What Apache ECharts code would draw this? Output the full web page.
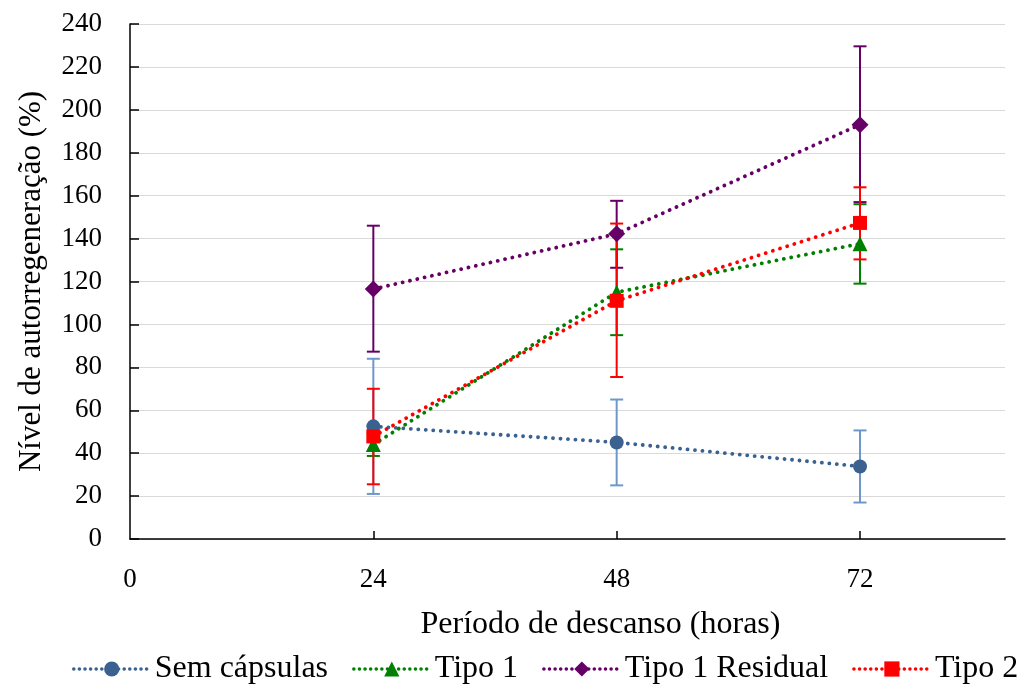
<!DOCTYPE html>
<html>
<head>
<meta charset="utf-8">
<script src="https://cdn.jsdelivr.net/npm/echarts@6/dist/echarts.min.js"></script>
<style>
  html, body { margin: 0; padding: 0; background: #fff; }
  #chart { width: 1030px; height: 691px; }
</style>
</head>
<body>
<div id="chart"></div>
<script>
    // data
    var horas = [24, 48, 72];
    var xTicks = [0, 24, 48, 72];

    var semCapsulas = [52.5, 45, 33.8];
    var semCapsulasErr = [[21, 84], [25, 65], [17, 50.6]];

    var tipo1 = [44, 115, 137.6];
    var tipo1Err = [[38.7, 49.3], [95, 135], [119, 156]];

    var tipo1Residual = [116.5, 142.2, 193.1];
    var tipo1ResidualErr = [[87.3, 146], [126.4, 157.6], [157, 229.6]];

    var tipo2 = [47.8, 111, 147.3];
    var tipo2Err = [[25.5, 70], [75.5, 147], [130.3, 163.9]];

    var font = '"Liberation Serif", "Times New Roman", serif';

    function pairs(vals) {
        return horas.map(function (h, i) { return [h, vals[i]]; });
    }

    function errorSeries(name, errs, color) {
        return {
            type: 'custom',
            name: name + ' erro',
            z: 2,
            silent: true,
            data: horas.map(function (h, i) { return [h, errs[i][0], errs[i][1]]; }),
            encode: { x: 0, y: [1, 2] },
            renderItem: function (params, api) {
                var lo = api.coord([api.value(0), api.value(1)]);
                var hi = api.coord([api.value(0), api.value(2)]);
                var w = 6.5;
                var st = { stroke: color, lineWidth: 2 };
                return {
                    type: 'group',
                    children: [
                        { type: 'line', shape: { x1: lo[0], y1: lo[1], x2: hi[0], y2: hi[1] }, style: st },
                        { type: 'line', shape: { x1: lo[0] - w, y1: lo[1], x2: lo[0] + w, y2: lo[1] }, style: st },
                        { type: 'line', shape: { x1: hi[0] - w, y1: hi[1], x2: hi[0] + w, y2: hi[1] }, style: st }
                    ]
                };
            }
        };
    }

    function lineSeries(name, vals, color, symbol, size) {
        return {
            type: 'line',
            name: name,
            z: 3,
            data: pairs(vals),
            symbol: symbol,
            symbolSize: size,
            showAllSymbol: true,
            itemStyle: { color: color, opacity: 1 },
            lineStyle: { color: color, width: 3.8, type: [0.1, 7.4], cap: 'round' }
        };
    }

    var chart = echarts.init(document.getElementById('chart'));

    var option = {
        animation: false,
        backgroundColor: '#fff',
        textStyle: { fontFamily: font },
        grid: { left: 130, right: 25, top: 24, bottom: 152 },
        legend: {
            top: 653,
            left: 72,
            width: 958,
            padding: 0,
            itemWidth: 76,
            itemHeight: 19,
            itemGap: 24,
            lineStyle: { width: 3.5, type: [0.1, 5.5], cap: 'round' },
            textStyle: { fontFamily: font, fontSize: 32, color: '#000' },
            data: ['Sem cápsulas', 'Tipo 1', 'Tipo 1 Residual', 'Tipo 2']
        },
        xAxis: {
            type: 'value',
            min: 0,
            max: 86.3,
            interval: 24,
            name: 'Período de descanso (horas)',
            nameLocation: 'middle',
            nameGap: 70,
            nameTextStyle: { fontFamily: font, fontSize: 32, color: '#000', padding: [0, 0, 0, 66] },
            axisLine: { lineStyle: { color: '#000', width: 1.5 } },
            axisTick: { show: true, inside: true, length: 8, customValues: [24, 48, 72], lineStyle: { color: '#000', width: 1.5 } },
            axisLabel: { customValues: xTicks, fontFamily: font, fontSize: 27, color: '#000', margin: 27 },
            splitLine: { show: false }
        },
        yAxis: {
            type: 'value',
            min: 0,
            max: 240,
            interval: 20,
            name: 'Nível de autorregeneração (%)',
            nameLocation: 'middle',
            nameGap: 83,
            nameTextStyle: { fontFamily: font, fontSize: 31, color: '#000' },
            axisLine: { show: true, lineStyle: { color: '#000', width: 1.5 } },
            axisTick: { show: true, inside: true, length: 9, lineStyle: { color: '#000', width: 1.5 } },
            axisLabel: { fontFamily: font, fontSize: 27, color: '#000', margin: 28 },
            splitLine: { show: true, lineStyle: { color: '#d9d9d9', width: 1.2 } }
        },
        series: [
            errorSeries('Sem cápsulas', semCapsulasErr, '#6e97cc'),
            errorSeries('Tipo 1', tipo1Err, '#008000'),
            errorSeries('Tipo 1 Residual', tipo1ResidualErr, '#660066'),
            errorSeries('Tipo 2', tipo2Err, '#ff0000'),
            lineSeries('Sem cápsulas', semCapsulas, '#3b6191', 'circle', 14),
            lineSeries('Tipo 1', tipo1, '#008000', 'triangle', 15),
            lineSeries('Tipo 1 Residual', tipo1Residual, '#660066', 'diamond', 17),
            lineSeries('Tipo 2', tipo2, '#ff0000', 'rect', 14)
        ]
    };

    chart.setOption(option);
    window.onresize = function () {
        chart.resize();
    };
</script>
</body>
</html>
